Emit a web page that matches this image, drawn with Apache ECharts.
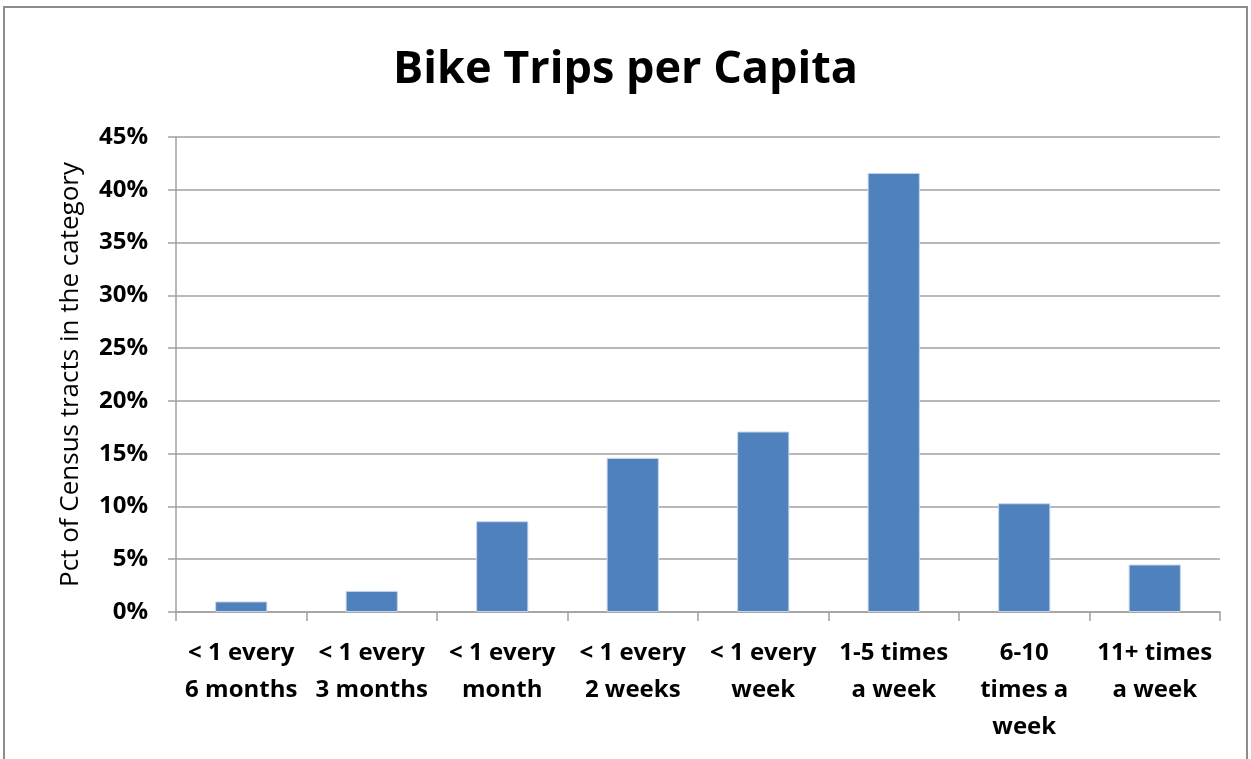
<!DOCTYPE html>
<html>
<head>
<meta charset="utf-8">
<script src="https://cdn.jsdelivr.net/npm/echarts@6/dist/echarts.min.js"></script>
<style>
  html, body { margin: 0; padding: 0; background: #fff; }
  #chart { width: 1251px; height: 759px; }
</style>
</head>
<body>
<div id="chart"></div>
<script>
// Trip-frequency buckets and share of census tracts in each (%)
const categories = [
  '< 1 every\n6 months',
  '< 1 every\n3 months',
  '< 1 every\nmonth',
  '< 1 every\n2 weeks',
  '< 1 every\nweek',
  '1-5 times\na week',
  '6-10\ntimes a\nweek',
  '11+ times\na week'
];
const shares = [1.0, 2.0, 8.6, 14.6, 17.1, 41.6, 10.3, 4.5];
const yTicks = { min: 0, max: 45, step: 5 };

const FONT = '"Open Sans", Lato, sans-serif';
const chart = echarts.init(document.getElementById('chart'));

chart.setOption({
  backgroundColor: '#ffffff',
  animation: false,
  title: {
    text: 'Bike Trips per Capita',
    left: 'center',
    top: 43,
    textStyle: { fontFamily: FONT, fontSize: 45, fontWeight: 'bold', color: '#000' }
  },
  grid: { left: 176, right: 31, top: 137, bottom: 147 },
  xAxis: {
    type: 'category',
    data: categories,
    axisLine: { lineStyle: { color: '#a0a0a0', width: 1.5 } },
    axisTick: { show: true, length: 9, alignWithLabel: false, lineStyle: { color: '#a0a0a0', width: 1.5 } },
    axisLabel: {
      interval: 0,
      margin: 23,
      fontFamily: FONT,
      fontSize: 24,
      fontWeight: 'bold',
      color: '#000',
      lineHeight: 37
    }
  },
  yAxis: {
    type: 'value',
    min: yTicks.min,
    max: yTicks.max,
    interval: yTicks.step,
    name: 'Pct of Census tracts in the category',
    nameLocation: 'middle',
    nameGap: 92,
    nameTextStyle: { fontFamily: FONT, fontSize: 26, color: '#000' },
    axisLine: { show: true, lineStyle: { color: '#a0a0a0', width: 1.5 } },
    axisTick: { show: true, length: 8, lineStyle: { color: '#a0a0a0', width: 1.5 } },
    splitLine: { lineStyle: { color: '#a0a0a0', width: 1.5 } },
    axisLabel: {
      margin: 28,
      fontFamily: FONT,
      fontSize: 24,
      fontWeight: 'bold',
      color: '#000',
      formatter: v => v + '%'
    }
  },
  series: [{
    type: 'bar',
    data: shares,
    barCategoryGap: '60%',
    itemStyle: { color: '#4f81bd', borderColor: '#c6d5ea', borderWidth: 1 }
  }],
  graphic: [{
    type: 'polyline',
    shape: { points: [[4, 770], [4, 7], [1247, 7], [1247, 770]] },
    style: { stroke: '#8c8c8c', lineWidth: 2, fill: null }
  }]
});
</script>
</body>
</html>
